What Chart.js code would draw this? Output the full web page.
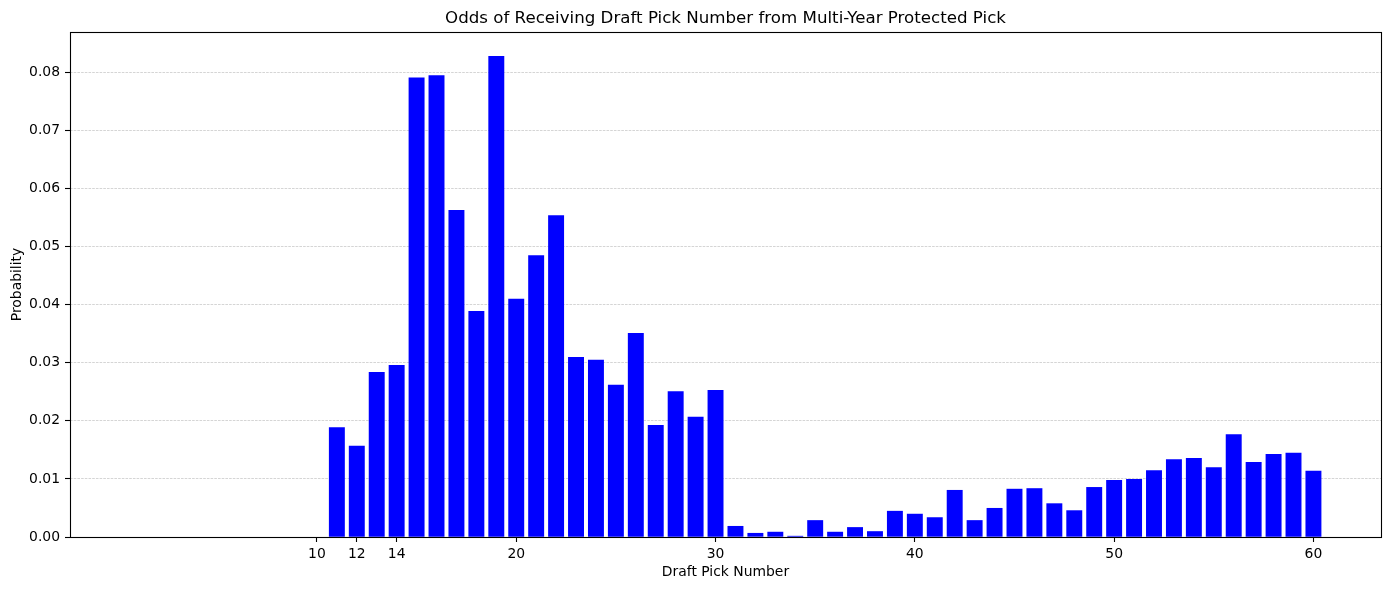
<!DOCTYPE html>
<html>
<head>
<meta charset="utf-8">
<script src="https://cdn.jsdelivr.net/npm/chart.js@4/dist/chart.umd.min.js"></script>
<style>
  body { margin: 0; background: #fff; }
  #wrap { width: 1389px; height: 590px; }
</style>
</head>
<body>
<div id="wrap"><canvas id="myChart"></canvas></div>
<script>
// draft pick numbers and the probability of landing on each
var picks = [1, 2, 3, 4, 5, 6, 7, 8, 9, 10,
  11, 12, 13, 14, 15, 16, 17, 18, 19, 20,
  21, 22, 23, 24, 25, 26, 27, 28, 29, 30,
  31, 32, 33, 34, 35, 36, 37, 38, 39, 40,
  41, 42, 43, 44, 45, 46, 47, 48, 49, 50,
  51, 52, 53, 54, 55, 56, 57, 58, 59, 60];
var probs = [0, 0, 0, 0, 0, 0, 0, 0, 0, 0,
  0.0189, 0.0157, 0.0284, 0.0296, 0.0791, 0.0795, 0.0563, 0.0389, 0.0828, 0.0410,
  0.0485, 0.0554, 0.0310, 0.0305, 0.0262, 0.0351, 0.0193, 0.0251, 0.0207, 0.0253,
  0.0019, 0.0007, 0.0009, 0.0002, 0.0029, 0.0009, 0.0017, 0.0010, 0.0045, 0.0040,
  0.0034, 0.0081, 0.0029, 0.0050, 0.0083, 0.0084, 0.0058, 0.0046, 0.0086, 0.0098,
  0.0100, 0.0115, 0.0134, 0.0136, 0.0120, 0.0177, 0.0129, 0.0143, 0.0145, 0.0114];
var xTicks = [10, 12, 14, 20, 30, 40, 50, 60];
var yTicks = [0, 0.01, 0.02, 0.03, 0.04, 0.05, 0.06, 0.07, 0.08];

Chart.defaults.font.family = "'DejaVu Sans', sans-serif";
Chart.defaults.font.size = 13.9;
Chart.defaults.color = '#000';

// box around the plot, like the matplotlib spines
var frame = {
  id: 'frame',
  afterDraw: function (chart) {
    var a = chart.chartArea, c = chart.ctx;
    c.save();
    c.strokeStyle = '#000';
    c.lineWidth = 1.1;
    c.strokeRect(Math.round(a.left) + 0.5, Math.round(a.top) + 0.5,
      Math.round(a.right - a.left), Math.round(a.bottom - a.top));
    c.restore();
  }
};

var ctx = document.getElementById('myChart').getContext('2d');
var myChart = new Chart(ctx, {
  type: 'bar',
  data: {
    datasets: [{
      data: picks.map(function (p, i) { return {x: p, y: probs[i]}; }),
      backgroundColor: '#0000ff',
      borderWidth: 0,
      barPercentage: 0.8,
      categoryPercentage: 1.0
    }]
  },
  options: {
    responsive: true,
    maintainAspectRatio: false,
    animation: false,
    layout: { padding: { left: 0, right: 8, top: 0, bottom: 0 } },
    plugins: {
      legend: { display: false },
      tooltip: { enabled: false },
      title: {
        display: true,
        fullSize: false,
        text: 'Odds of Receiving Draft Pick Number from Multi-Year Protected Pick',
        font: { size: 16.67, weight: 'normal' },
        padding: { top: 8.5, bottom: 3.5 }
      }
    },
    scales: {
      x: {
        type: 'linear',
        min: -2.39,
        max: 63.39,
        offset: false,
        afterBuildTicks: function (s) { s.ticks = xTicks.map(function (v) { return {value: v}; }); },
        afterFit: function (s) { s.height = 53; },
        ticks: { padding: 4, maxRotation: 0, autoSkip: false },
        grid: { offset: false, drawOnChartArea: false, tickLength: 5, tickColor: '#000', tickWidth: 1.1 },
        border: { display: false },
        title: { display: true, text: 'Draft Pick Number', padding: { top: 0, bottom: 9.7 } }
      },
      y: {
        min: 0,
        max: 0.08694,
        z: 1,
        afterBuildTicks: function (s) { s.ticks = yTicks.map(function (v) { return {value: v}; }); },
        afterFit: function (s) { s.width = 70; },
        ticks: {
          padding: 5,
          autoSkip: false,
          callback: function (v) { return v.toFixed(2); }
        },
        grid: {
          color: 'rgba(176,176,176,0.9)',
          lineWidth: 0.6,
          tickLength: 5,
          tickColor: '#000',
          tickWidth: 1.1,
          tickBorderDash: []
        },
        border: { display: false, dash: [2.6, 1.1] },
        title: { display: true, text: 'Probability', padding: { top: 9.2, bottom: 0 } }
      }
    }
  },
  plugins: [frame]
});
</script>
</body>
</html>
